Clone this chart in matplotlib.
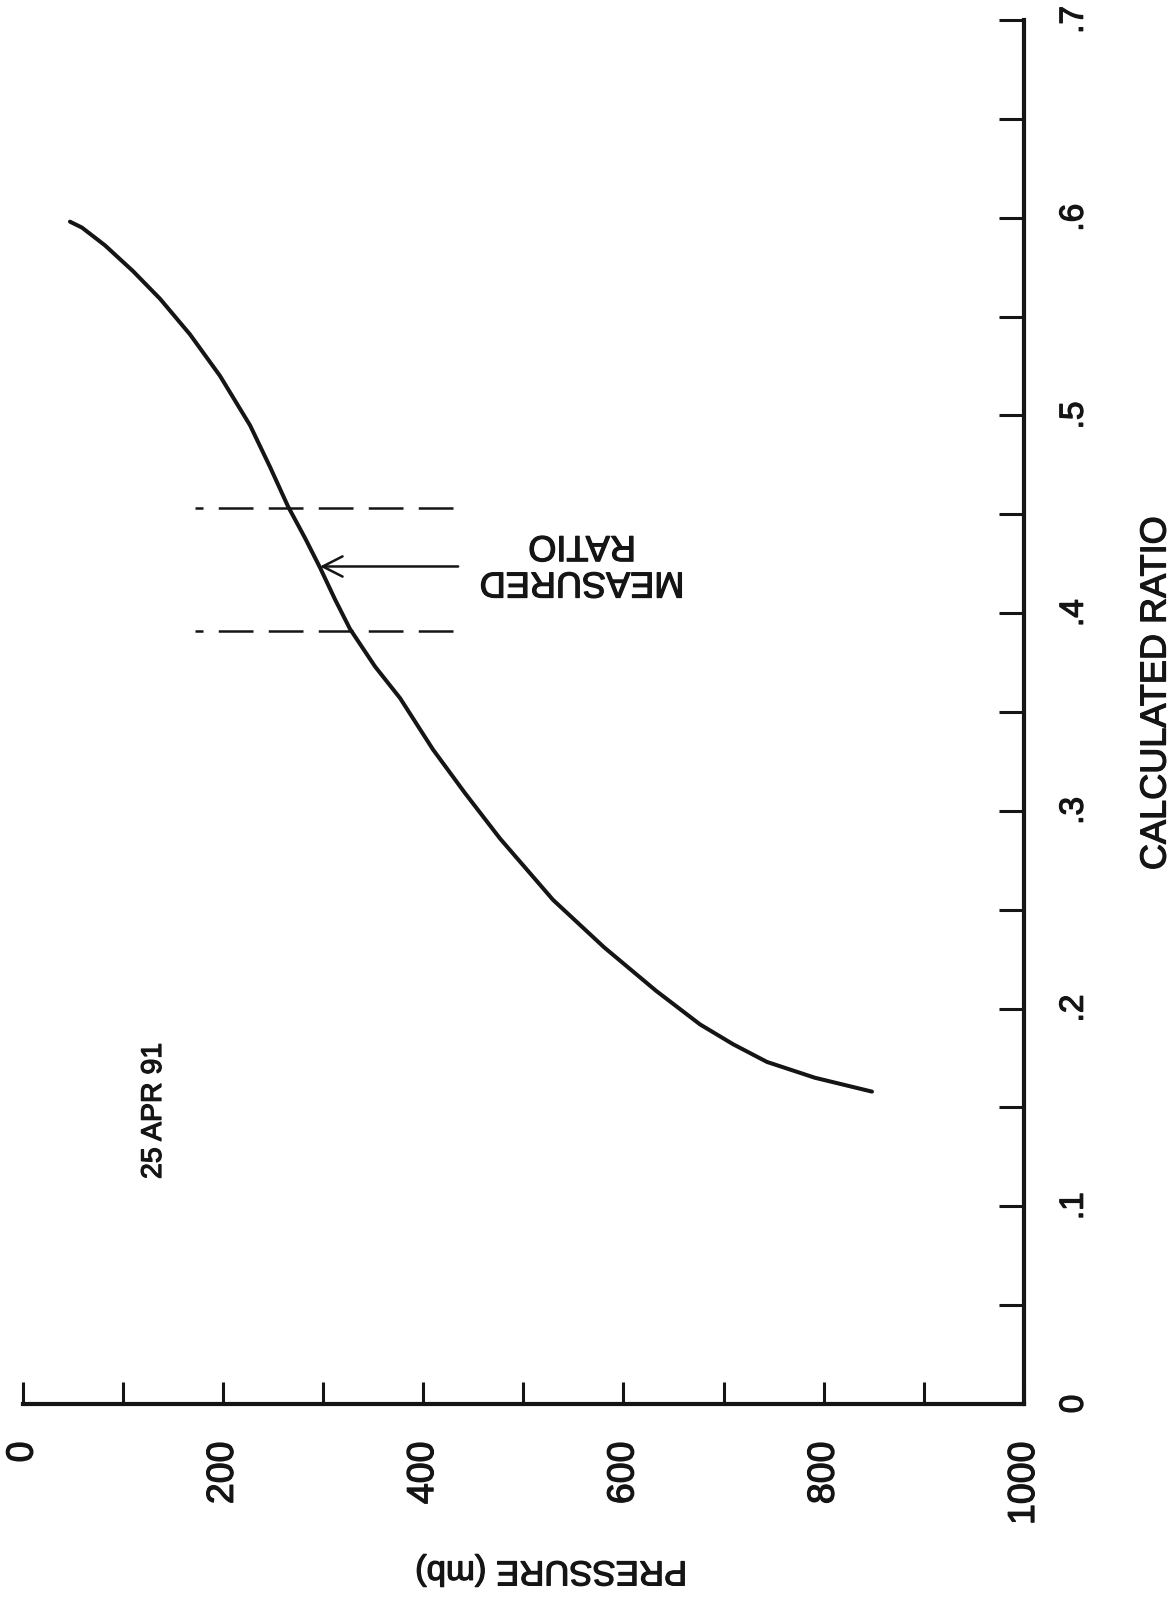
import matplotlib
matplotlib.use("Agg")
import matplotlib.pyplot as plt
import matplotlib.patheffects as pe
from matplotlib.ticker import FixedLocator

plt.rcParams['font.family'] = ['Liberation Sans', 'DejaVu Sans']
plt.rcParams['lines.scale_dashes'] = False

# ---- data ----
pressure = [47.4, 59.4, 82.4, 110.3, 137.3, 167.2, 197.2, 227.2, 247.1, 265.1,
            282.1, 297.1, 312.0, 327.0, 352.0, 377.0, 409.9, 441.8, 476.8,
            529.7, 580.7, 632.6, 676.5, 709.4, 743.4, 791.3, 848.2]
ratio = [0.598, 0.595, 0.586, 0.573, 0.559, 0.541, 0.520, 0.495, 0.474, 0.454,
         0.438, 0.423, 0.407, 0.392, 0.373, 0.357, 0.331, 0.309, 0.286,
         0.255, 0.231, 0.209, 0.192, 0.182, 0.173, 0.165, 0.158]
measured_ratio = 0.4236
measured_low = 0.391
measured_high = 0.453
p_ticks_major = [0, 200, 400, 600, 800, 1000]
p_labels = ["0", "200", "400", "600", "800", "1000"]
p_ticks_minor = [100, 300, 500, 700, 900]
r_ticks_major = [0, 0.1, 0.2, 0.3, 0.4, 0.5, 0.6, 0.7]
r_labels = ["0", ".1", ".2", ".3", ".4", ".5", ".6", ".7"]
r_ticks_minor = [0.05, 0.15, 0.25, 0.35, 0.45, 0.55, 0.65]

INK = "#151515"
W, H = 1175, 1606
fig = plt.figure(figsize=(W / 100, H / 100), dpi=100)
fig.patch.set_facecolor("white")
bold = [pe.withStroke(linewidth=0.9, foreground=INK)]

def fx(x):
    return x / W

def fy(y):
    return 1 - y / H

x0, x1 = 22.5, 1024.0
y0, y1 = 1405.0, 21.0
ax = fig.add_axes([fx(x0), fy(y0), (x1 - x0) / W, (y0 - y1) / H])
ax.set_xlim(0, 1000)
ax.set_ylim(0, 0.7)
ax.set_facecolor("none")

for s in ["top", "left"]:
    ax.spines[s].set_visible(False)
for s in ["bottom", "right"]:
    ax.spines[s].set_linewidth(3.0)
    ax.spines[s].set_color(INK)
    ax.spines[s].set_capstyle("projecting")

ax.yaxis.tick_right()
ax.xaxis.set_major_locator(FixedLocator(p_ticks_major))
ax.xaxis.set_minor_locator(FixedLocator(p_ticks_minor))
ax.set_xticklabels(p_labels, rotation=90)
ax.yaxis.set_major_locator(FixedLocator(r_ticks_major))
ax.yaxis.set_minor_locator(FixedLocator(r_ticks_minor))
ax.set_yticklabels(r_labels, rotation=90, va="center")

ax.tick_params(axis="x", which="both", direction="in", length=16, width=2.2,
               color=INK, labelsize=27, pad=27, labelcolor=INK)
ax.tick_params(axis="y", which="both", direction="in", length=18, width=2.2,
               color=INK, labelsize=24, pad=25, left=False, right=True,
               labelleft=False, labelright=True, labelcolor=INK)
ax.tick_params(axis="x", which="minor", labelbottom=False)
for t in ax.get_xticklabels() + ax.get_yticklabels():
    t.set_path_effects(bold)

# curve
ax.plot(pressure, ratio, color=INK, lw=2.9, solid_joinstyle="round",
        solid_capstyle="round", clip_on=False)

# measured ratio band (dashed) and arrow
for r in (measured_low, measured_high):
    ax.plot([430, 172], [r, r], color=INK, lw=1.8,
            linestyle=(0, (25, 11)), dash_capstyle="butt")
ax.annotate("", xy=(297, measured_ratio), xytext=(435, measured_ratio),
            arrowprops=dict(arrowstyle="->,head_length=0.55,head_width=0.28",
                            lw=1.8, color=INK, mutation_scale=26,
                            shrinkA=0, shrinkB=0))

# texts
texts = [
    fig.text(fx(582), fy(565), "MEASURED\nRATIO", rotation=180, ha="center",
             va="center", fontsize=26, color=INK, linespacing=1.05),
    fig.text(fx(154), fy(1112), "25 APR 91", rotation=90, ha="center",
             va="center", fontsize=20.5, color=INK),
    fig.text(fx(1156), fy(694), "CALCULATED RATIO", rotation=90, ha="center",
             va="center", fontsize=26, color=INK),
    fig.text(fx(551), fy(1572), "PRESSURE (mb)", rotation=180, ha="center",
             va="center", fontsize=25, color=INK),
]
for t in texts:
    t.set_path_effects(bold)

fig.savefig("out.png", dpi=100, facecolor="white")
